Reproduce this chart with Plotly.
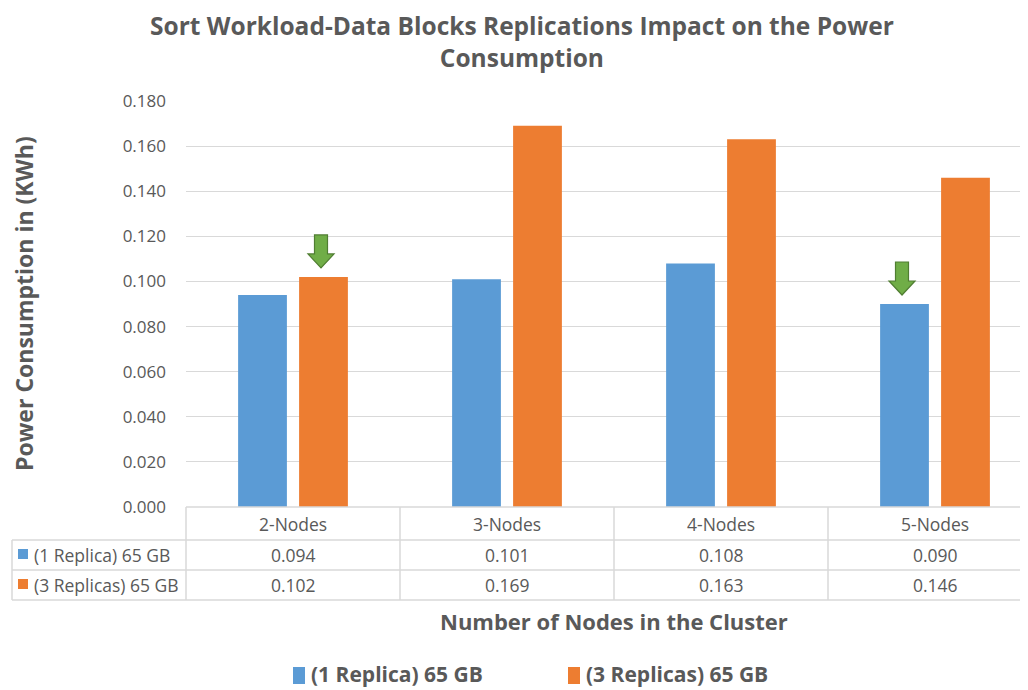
import plotly.graph_objects as go

# ---- data ----
categories = ["2-Nodes", "3-Nodes", "4-Nodes", "5-Nodes"]
series_names = ["(1 Replica) 65 GB", "(3 Replicas) 65 GB"]
one_replica = [0.094, 0.101, 0.108, 0.090]
three_replicas = [0.102, 0.169, 0.163, 0.146]
y_ticks = [0.000, 0.020, 0.040, 0.060, 0.080, 0.100, 0.120, 0.140, 0.160, 0.180]
# arrows: (category index, series index)
arrow_marks = [(0, 1), (3, 0)]

colors = ["#5B9BD5", "#ED7D31"]
TXT = "#595959"
GRID = "#D9D9D9"
FONT = "Open Sans, Noto Sans, sans-serif"

OFF = 8  # page body margin
W, H = 1028 - OFF, 690 - OFF
L, T, B = 186 - OFF, 101 - OFF, 183
plot_w = W - L
plot_h = H - T - B
cat_px = 214.0
x_range = [-0.5, -0.5 + plot_w / cat_px]
y_range = [0, 0.18]

def px_x(px):  # page pixel -> paper x
    return (px - OFF - L) / plot_w

def px_y(py):  # page pixel -> paper y
    return (H - B - (py - OFF)) / plot_h

def cat_paper(c):  # category value -> paper x
    return (c - x_range[0]) / (x_range[1] - x_range[0])

xs = list(range(len(categories)))
series = [one_replica, three_replicas]

fig = go.Figure()
for name, vals, col in zip(series_names, series, colors):
    fig.add_trace(go.Bar(x=xs, y=vals, name=name, marker=dict(color=col, line=dict(width=0)),
                         showlegend=False))

bargap = 0.43
bargroupgap = 0.2
fig.update_layout(
    width=W, height=H,
    margin=dict(l=L, r=0, t=T, b=B, pad=0),
    paper_bgcolor="white", plot_bgcolor="white",
    barmode="group", bargap=bargap, bargroupgap=bargroupgap,
    font=dict(family=FONT, color=TXT, size=16),
    showlegend=False,
)
fig.update_xaxes(range=x_range, showticklabels=False, ticks="", showgrid=False,
                 zeroline=False, showline=False)
fig.update_yaxes(range=y_range, tickvals=y_ticks, ticktext=[f"{v:.3f}" for v in y_ticks],
                 tickfont=dict(size=17, color=TXT, family=FONT), ticks="", ticklabelstandoff=19,
                 showgrid=True, gridcolor=GRID, gridwidth=1, zeroline=False, showline=False)

# title
fig.add_annotation(xref="paper", yref="paper", x=px_x(522), y=px_y(7), xanchor="center", yanchor="top",
                   text="<b>Sort Workload-Data Blocks Replications Impact on the Power<br>Consumption</b>",
                   showarrow=False, font=dict(size=24.5, color=TXT, family=FONT), align="center")
# y title
fig.add_annotation(xref="paper", yref="paper", x=px_x(24), y=px_y(304), xanchor="center", yanchor="middle",
                   text="<b>Power Consumption in (KWh)</b>", textangle=-90, showarrow=False,
                   font=dict(size=23, color=TXT, family=FONT))
# x title
fig.add_annotation(xref="paper", yref="paper", x=px_x(614), y=px_y(621), xanchor="center", yanchor="middle",
                   text="<b>Number of Nodes in the Cluster</b>", showarrow=False,
                   font=dict(size=22, color=TXT, family=FONT))

# ---- data table ----
line = dict(color=GRID, width=1.5)
row_y = [507, 540, 570, 600]
fig.add_shape(type="line", xref="paper", yref="paper", x0=0, x1=1, y0=px_y(507), y1=px_y(507), line=line)
for ry in row_y[1:]:
    fig.add_shape(type="line", xref="paper", yref="paper", x0=px_x(12), x1=1, y0=px_y(ry), y1=px_y(ry), line=line)
fig.add_shape(type="line", xref="paper", yref="paper", x0=px_x(12), x1=px_x(12), y0=px_y(540), y1=px_y(600), line=line)
for k in range(len(categories)):
    xb = cat_paper(k - 0.5)
    fig.add_shape(type="line", xref="paper", yref="paper", x0=xb, x1=xb, y0=px_y(507), y1=px_y(600), line=line)

row_centers = [523.5, 555, 585]
TFS = 17.5
for k, c in enumerate(categories):
    fig.add_annotation(xref="paper", yref="paper", x=cat_paper(k), y=px_y(row_centers[0]),
                       text=c, showarrow=False, xanchor="center", yanchor="middle",
                       font=dict(size=TFS, color=TXT, family=FONT))
    for r, vals in enumerate(series):
        fig.add_annotation(xref="paper", yref="paper", x=cat_paper(k), y=px_y(row_centers[r + 1]),
                           text=f"{vals[k]:.3f}", showarrow=False, xanchor="center", yanchor="middle",
                           font=dict(size=TFS, color=TXT, family=FONT))
for r, (name, col) in enumerate(zip(series_names, colors)):
    cy = row_centers[r + 1]
    fig.add_shape(type="rect", xref="paper", yref="paper", x0=px_x(18), x1=px_x(28),
                  y0=px_y(cy - 6), y1=px_y(cy + 4), fillcolor=col, line=dict(width=0))
    fig.add_annotation(xref="paper", yref="paper", x=px_x(32), y=px_y(cy), text=name, showarrow=False,
                       xanchor="left", yanchor="middle", font=dict(size=TFS, color=TXT, family=FONT))

# ---- bottom legend ----
leg_items = [(293, series_names[0], colors[0]), (568, series_names[1], colors[1])]
for x0, name, col in leg_items:
    fig.add_shape(type="rect", xref="paper", yref="paper", x0=px_x(x0), x1=px_x(x0 + 12),
                  y0=px_y(684), y1=px_y(667), fillcolor=col, line=dict(width=0))
    fig.add_annotation(xref="paper", yref="paper", x=px_x(x0 + 16), y=px_y(674), text=f"<b>{name}</b>",
                       showarrow=False, xanchor="left", yanchor="middle",
                       font=dict(size=21, color=TXT, family=FONT))

# ---- green arrows ----
slot = (1 - bargap) / 2
ypp = (y_range[1] - y_range[0]) / plot_h  # value per pixel
xpp = 1.0 / cat_px
for ci, si in arrow_marks:
    xc = ci + (si - 0.5) * slot - 2.5 * xpp
    tip = series[si][ci] + 9 * ypp
    head = tip + 14 * ypp
    top = tip + 33 * ypp
    sw, hw = 6.5 * xpp, 13 * xpp
    path = (f"M{xc - sw},{top} L{xc + sw},{top} L{xc + sw},{head} L{xc + hw},{head} "
            f"L{xc},{tip} L{xc - hw},{head} L{xc - sw},{head} Z")
    fig.add_shape(type="path", xref="x", yref="y", path=path, fillcolor="#70AD47",
                  line=dict(color="#507E32", width=1.2))

fig.write_html("out.html")
